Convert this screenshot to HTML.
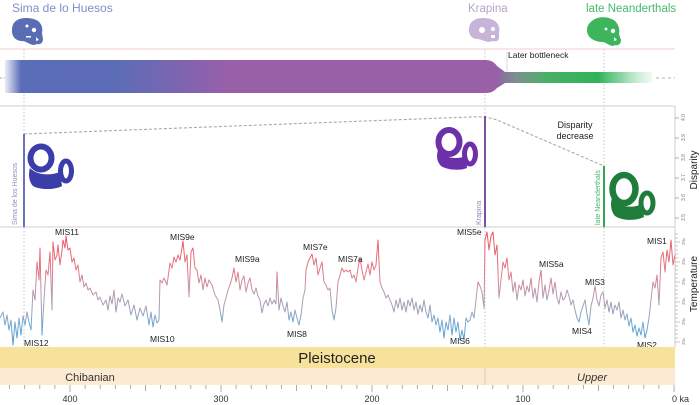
<!DOCTYPE html>
<html><head><meta charset="utf-8">
<style>
html,body{margin:0;padding:0;background:#fff;}
svg{display:block;font-family:"Liberation Sans",Arial,sans-serif;}
</style></head>
<body>
<svg width="700" height="405" viewBox="0 0 700 405" xmlns="http://www.w3.org/2000/svg">
<defs>
<linearGradient id="bar" gradientUnits="userSpaceOnUse" x1="0" y1="0" x2="700" y2="0">
<stop offset="0.007" stop-color="#5a6db8" stop-opacity="0.12"/>
<stop offset="0.03" stop-color="#5a6db8" stop-opacity="1"/>
<stop offset="0.17" stop-color="#5d6cb6"/>
<stop offset="0.29" stop-color="#8a62ad"/>
<stop offset="0.33" stop-color="#9960a8"/>
<stop offset="0.72" stop-color="#9960a8"/>
</linearGradient>
<linearGradient id="gbar" gradientUnits="userSpaceOnUse" x1="498" y1="0" x2="652" y2="0">
<stop offset="0" stop-color="#8d6aa2"/>
<stop offset="0.12" stop-color="#7d8f90"/>
<stop offset="0.3" stop-color="#4caf68"/>
<stop offset="0.65" stop-color="#2db456"/>
<stop offset="0.8" stop-color="#6cc88a" stop-opacity="0.8"/>
<stop offset="1" stop-color="#c8ecd3" stop-opacity="0.3"/>
</linearGradient>
<linearGradient id="tg" gradientUnits="userSpaceOnUse" x1="0" y1="232" x2="0" y2="346">
<stop offset="0" stop-color="#f0505f"/>
<stop offset="0.35" stop-color="#e07a88"/>
<stop offset="0.55" stop-color="#b89aae"/>
<stop offset="0.7" stop-color="#96a2ba"/>
<stop offset="0.82" stop-color="#6eaad6"/>
<stop offset="1" stop-color="#3f9ad8"/>
</linearGradient>
</defs>

<!-- top labels -->
<text x="12" y="12" font-size="12" fill="#8090c6">Sima de lo Huesos</text>
<text x="468" y="12" font-size="11.5" fill="#b7a5c8">Krapina</text>
<text x="586" y="12" font-size="11.5" fill="#45b96c">late Neanderthals</text>

<!-- skulls -->
<g transform="translate(12,17)" fill="#5a6db4">
<path d="M4,4 C8,0 20,0 26,4 C30,7 31,12 30,16 L31,22 C31,26 28,28 25,27 L22,28 C18,28 14,24 10,24 C4,24 0,20 0,14 C0,9 1,6 4,4 Z"/>
<circle cx="22" cy="13" r="2.2" fill="#fff"/><circle cx="15" cy="9" r="1.5" fill="#fff"/><rect x="14" y="19" width="5" height="1.5" fill="#fff"/><path d="M24,20 l3,3 l-3,1z" fill="#fff"/>
</g>
<g transform="translate(469,17)" fill="#c8b4d9">
<path d="M4,4 C8,0 20,0 26,4 C30,7 31,12 30,16 L30,20 C30,24 27,25 24,24 L20,25 C16,25 12,22 8,22 C3,22 0,18 0,13 C0,9 1,6 4,4 Z"/>
<circle cx="13" cy="13" r="3" fill="#fff"/><circle cx="24" cy="12" r="2" fill="#fff"/><rect x="22" y="18" width="4" height="3" fill="#fff"/>
</g>
<g transform="translate(587,16)" fill="#3db55c">
<path d="M5,5 C10,0 22,0 28,5 C32,9 33,14 32,18 L34,24 C34,28 31,30 28,29 L26,30 C23,30 20,27 16,26 C8,26 0,22 0,14 C0,10 2,7 5,5 Z"/>
<circle cx="26" cy="15" r="2.2" fill="#fff"/><circle cx="19" cy="13" r="1.4" fill="#fff"/><path d="M27,21 l3,3 l-3,1z" fill="#fff"/>
</g>

<!-- top frame lines -->
<line x1="0" y1="49" x2="675" y2="49" stroke="#f1cfc8" stroke-width="1"/>
<line x1="0" y1="106" x2="675" y2="106" stroke="#cfcfcf" stroke-width="1"/>

<!-- dotted verticals -->
<g stroke="#c4c4c4" stroke-width="1" stroke-dasharray="1.5,2">
<line x1="24" y1="49" x2="24" y2="347"/>
<line x1="485" y1="49" x2="485" y2="347"/>
<line x1="604" y1="49" x2="604" y2="347"/>
</g>

<!-- population bar -->
<line x1="0" y1="78" x2="5" y2="78" stroke="#aaa" stroke-dasharray="2,2"/>
<path d="M5,60 L486,60 Q493,60 497,66 L505,72 L505,83 L497,88 Q493,93 486,93 L5,93 Z" fill="url(#bar)"/>
<rect x="498" y="72" width="154" height="11" fill="url(#gbar)"/>
<line x1="656" y1="78" x2="675" y2="78" stroke="#b5b5b5" stroke-dasharray="3,3"/>
<line x1="507" y1="52" x2="507" y2="72" stroke="#d8d8d8"/>
<text x="508" y="58" font-size="8.5" fill="#222">Later bottleneck</text>

<!-- disparity panel -->
<line x1="0" y1="227" x2="675" y2="227" stroke="#cfcfcf"/>
<line x1="675" y1="106" x2="675" y2="347" stroke="#cfcfcf"/>
<path d="M24,134 L470,117 Q485,116 497,120 L604,166" fill="none" stroke="#a8a8a8" stroke-width="1.1" stroke-dasharray="3,2"/>
<line x1="24" y1="134" x2="24" y2="227" stroke="#6a72b8" stroke-width="2"/>
<line x1="485" y1="116" x2="485" y2="227" stroke="#7b52a3" stroke-width="2"/>
<line x1="604" y1="166" x2="604" y2="227" stroke="#2fa84f" stroke-width="2"/>
<text transform="translate(17,225) rotate(-90)" font-size="7" fill="#8f92b8">Sima de los Huesos</text>
<text transform="translate(481,225) rotate(-90)" font-size="7" fill="#9a85b0">Krapina</text>
<text transform="translate(600,225) rotate(-90)" font-size="7" fill="#4ab46c">late Neanderthals</text>
<text x="575" y="128" font-size="9" fill="#222" text-anchor="middle">Disparity</text>
<text x="575" y="139" font-size="9" fill="#222" text-anchor="middle">decrease</text>

<!-- inner ear icons -->
<g fill="none" stroke="#3b3ea8">
<ellipse cx="41" cy="158" rx="10.5" ry="11.5" stroke-width="6"/>
<ellipse cx="66" cy="171" rx="5.5" ry="10" stroke-width="5"/>
</g>
<path d="M30,168 C36,175 50,176 60,172 L62,186 C55,190 40,190 33,186 C29,182 28,174 30,168 Z" fill="#3b3ea8"/>
<g fill="none" stroke="#6c30a8">
<ellipse cx="449" cy="142" rx="10.5" ry="12" stroke-width="6"/>
<ellipse cx="470" cy="154" rx="5.5" ry="10" stroke-width="5"/>
</g>
<path d="M438,150 C444,158 456,160 466,156 L467,168 C460,171 447,170 441,166 C437,162 436,156 438,150 Z" fill="#6c30a8"/>
<g fill="none" stroke="#1f7d3c">
<ellipse cx="624" cy="189" rx="11.5" ry="14" stroke-width="6.5"/>
<ellipse cx="647" cy="203" rx="6" ry="10" stroke-width="5"/>
</g>
<path d="M612,198 C618,207 632,209 642,204 L644,217 C636,221 622,221 615,216 C611,211 610,204 612,198 Z" fill="#1f7d3c"/>

<!-- disparity axis -->
<g stroke="#999" stroke-width="0.8">
<line x1="675" y1="118" x2="679" y2="118"/><line x1="675" y1="138" x2="679" y2="138"/>
<line x1="675" y1="158" x2="679" y2="158"/><line x1="675" y1="178" x2="679" y2="178"/>
<line x1="675" y1="198" x2="679" y2="198"/><line x1="675" y1="218" x2="679" y2="218"/>
</g>
<g font-size="5" fill="#777">
<text transform="translate(685,121) rotate(-90)">4.0</text>
<text transform="translate(685,141) rotate(-90)">3.9</text>
<text transform="translate(685,161) rotate(-90)">3.8</text>
<text transform="translate(685,181) rotate(-90)">3.7</text>
<text transform="translate(685,201) rotate(-90)">3.6</text>
<text transform="translate(685,221) rotate(-90)">3.5</text>
</g>
<text transform="translate(697,170) rotate(-90)" font-size="10" fill="#222" text-anchor="middle">Disparity</text>

<!-- temperature axis -->
<g stroke="#aaa" stroke-width="0.7">
<line x1="675" y1="234" x2="678" y2="234"/><line x1="675" y1="238" x2="678" y2="238"/><line x1="675" y1="242" x2="680" y2="242"/><line x1="675" y1="246" x2="678" y2="246"/><line x1="675" y1="250" x2="678" y2="250"/><line x1="675" y1="254" x2="678" y2="254"/><line x1="675" y1="258" x2="678" y2="258"/><line x1="675" y1="262" x2="680" y2="262"/><line x1="675" y1="266" x2="678" y2="266"/><line x1="675" y1="270" x2="678" y2="270"/><line x1="675" y1="274" x2="678" y2="274"/><line x1="675" y1="278" x2="678" y2="278"/><line x1="675" y1="282" x2="680" y2="282"/><line x1="675" y1="286" x2="678" y2="286"/><line x1="675" y1="290" x2="678" y2="290"/><line x1="675" y1="294" x2="678" y2="294"/><line x1="675" y1="298" x2="678" y2="298"/><line x1="675" y1="302" x2="680" y2="302"/><line x1="675" y1="306" x2="678" y2="306"/><line x1="675" y1="310" x2="678" y2="310"/><line x1="675" y1="314" x2="678" y2="314"/><line x1="675" y1="318" x2="678" y2="318"/><line x1="675" y1="322" x2="680" y2="322"/><line x1="675" y1="326" x2="678" y2="326"/><line x1="675" y1="330" x2="678" y2="330"/><line x1="675" y1="334" x2="678" y2="334"/><line x1="675" y1="338" x2="678" y2="338"/><line x1="675" y1="342" x2="680" y2="342"/>
</g>
<g font-size="4.5" fill="#888">
<text transform="translate(685,245) rotate(-90)">3‰</text>
<text transform="translate(685,265) rotate(-90)">3‰</text>
<text transform="translate(685,285) rotate(-90)">3‰</text>
<text transform="translate(685,305) rotate(-90)">3‰</text>
<text transform="translate(685,325) rotate(-90)">3‰</text>
<text transform="translate(685,345) rotate(-90)">3‰</text>
</g>
<text transform="translate(697,284) rotate(-90)" font-size="10" fill="#222" text-anchor="middle">Temperature</text>

<!-- temperature curve -->
<polyline fill="none" stroke="url(#tg)" stroke-width="1" stroke-linejoin="round" points="0,318 3,312 5,325 7,315 9,330 11,320 13,345 15,322 17,338 19,318 21,335 23,316 25,325 27,312 29,322 31,330 33,290 35,300 37,262 39,280 40,248 42,335 44,300 46,270 48,275 50,252 52,310 53,242 55,260 57,255 58,245 60,265 62,250 63,240 65,248 66,236 68,250 70,248 72,262 74,258 76,270 78,265 80,282 82,275 84,287 86,283 88,290 90,288 93,295 96,292 98,300 100,297 103,305 106,300 108,310 110,296 112,304 114,290 116,312 118,298 120,302 122,294 125,306 128,300 131,315 134,305 137,320 140,308 143,316 146,306 149,325 151,312 153,327 155,315 157,323 159,320 160,280 162,283 164,278 167,285 170,263 172,268 174,257 176,262 178,255 180,260 182,248 183,241 185,262 187,255 189,297 191,252 193,248 195,268 197,270 199,283 201,275 203,290 205,278 207,287 209,280 212,285 215,295 218,300 220,310 222,322 224,305 226,298 228,290 230,285 232,278 234,268 236,282 238,272 240,290 242,280 244,276 246,292 248,283 250,278 252,290 254,294 256,288 258,296 260,300 262,313 264,304 266,300 268,306 270,298 272,304 274,300 276,304 277,272 279,310 281,298 283,306 285,312 287,302 289,320 291,312 293,322 295,310 297,318 299,325 301,315 303,298 305,290 306,270 308,262 310,258 312,254 314,265 316,258 318,275 320,268 322,262 324,282 326,285 328,290 330,288 332,310 334,320 336,308 338,282 340,275 342,268 344,272 346,270 348,272 350,270 352,278 354,275 356,282 358,268 360,258 362,270 364,280 366,272 368,264 370,275 372,262 374,270 376,265 378,240 380,282 382,288 384,292 386,298 388,295 390,300 392,305 394,312 396,300 398,308 400,298 402,310 404,302 406,312 408,300 410,306 412,298 414,310 416,302 418,314 420,305 422,312 424,300 426,312 428,318 430,305 432,322 434,315 436,325 438,318 440,332 442,320 444,338 446,322 448,330 450,315 452,335 454,318 456,332 458,322 460,340 462,330 464,340 466,318 468,322 470,320 472,312 474,318 476,300 478,282 480,286 482,292 484,308 485,240 487,232 489,250 491,236 493,232 495,255 497,245 499,298 501,280 503,262 505,268 507,258 509,280 511,272 513,292 515,282 517,300 519,285 521,290 523,280 525,296 527,286 529,292 531,278 533,298 535,288 537,302 539,282 541,270 543,298 545,285 547,300 549,290 551,278 553,294 555,282 557,298 559,304 561,292 563,300 565,298 567,290 569,296 571,305 573,300 575,310 577,318 579,322 581,312 583,306 585,300 587,314 589,325 591,306 593,298 595,286 597,300 599,306 601,295 603,292 605,308 607,300 609,312 611,302 613,314 615,305 617,310 619,302 621,318 623,310 625,320 627,314 629,326 631,318 633,332 635,325 637,336 639,328 641,335 643,322 645,338 647,330 649,318 651,300 653,282 655,288 657,275 659,305 661,258 663,252 665,272 667,250 669,262 671,240 673,265 675,255"/>

<!-- MIS labels -->
<g font-size="8.5" fill="#222">
<text x="24" y="346">MIS12</text>
<text x="55" y="235">MIS11</text>
<text x="150" y="342">MIS10</text>
<text x="170" y="240">MIS9e</text>
<text x="235" y="262">MIS9a</text>
<text x="287" y="337">MIS8</text>
<text x="303" y="250">MIS7e</text>
<text x="338" y="262">MIS7a</text>
<text x="450" y="344">MIS6</text>
<text x="457" y="235">MIS5e</text>
<text x="539" y="267">MIS5a</text>
<text x="572" y="334">MIS4</text>
<text x="585" y="285">MIS3</text>
<text x="637" y="348">MIS2</text>
<text x="647" y="244">MIS1</text>
</g>

<!-- chronostratigraphy bands -->
<rect x="0" y="347" width="675" height="21" fill="#f7e29b"/>
<rect x="0" y="368" width="675" height="17" fill="#fbebd2"/>
<line x1="485" y1="368" x2="485" y2="385" stroke="#d9cbb0"/>
<text x="337" y="363" font-size="15" fill="#222" text-anchor="middle">Pleistocene</text>
<text x="90" y="381" font-size="11" fill="#333" text-anchor="middle">Chibanian</text>
<text x="592" y="381" font-size="11" fill="#333" text-anchor="middle" font-style="italic">Upper</text>

<!-- x axis ticks -->
<g stroke="#999" stroke-width="0.8">
<line x1="674" y1="385" x2="674" y2="392"/><line x1="658.9" y1="385" x2="658.9" y2="389"/><line x1="643.8" y1="385" x2="643.8" y2="389"/><line x1="628.7" y1="385" x2="628.7" y2="389"/><line x1="613.6" y1="385" x2="613.6" y2="389"/><line x1="598.5" y1="385" x2="598.5" y2="391"/><line x1="583.4" y1="385" x2="583.4" y2="389"/><line x1="568.3" y1="385" x2="568.3" y2="389"/><line x1="553.2" y1="385" x2="553.2" y2="389"/><line x1="538.1" y1="385" x2="538.1" y2="389"/><line x1="523" y1="385" x2="523" y2="392"/><line x1="507.9" y1="385" x2="507.9" y2="389"/><line x1="492.8" y1="385" x2="492.8" y2="389"/><line x1="477.7" y1="385" x2="477.7" y2="389"/><line x1="462.6" y1="385" x2="462.6" y2="389"/><line x1="447.5" y1="385" x2="447.5" y2="391"/><line x1="432.4" y1="385" x2="432.4" y2="389"/><line x1="417.3" y1="385" x2="417.3" y2="389"/><line x1="402.2" y1="385" x2="402.2" y2="389"/><line x1="387.1" y1="385" x2="387.1" y2="389"/><line x1="372" y1="385" x2="372" y2="392"/><line x1="356.9" y1="385" x2="356.9" y2="389"/><line x1="341.8" y1="385" x2="341.8" y2="389"/><line x1="326.7" y1="385" x2="326.7" y2="389"/><line x1="311.6" y1="385" x2="311.6" y2="389"/><line x1="296.5" y1="385" x2="296.5" y2="391"/><line x1="281.4" y1="385" x2="281.4" y2="389"/><line x1="266.3" y1="385" x2="266.3" y2="389"/><line x1="251.2" y1="385" x2="251.2" y2="389"/><line x1="236.1" y1="385" x2="236.1" y2="389"/><line x1="221" y1="385" x2="221" y2="392"/><line x1="205.9" y1="385" x2="205.9" y2="389"/><line x1="190.8" y1="385" x2="190.8" y2="389"/><line x1="175.7" y1="385" x2="175.7" y2="389"/><line x1="160.6" y1="385" x2="160.6" y2="389"/><line x1="145.5" y1="385" x2="145.5" y2="391"/><line x1="130.4" y1="385" x2="130.4" y2="389"/><line x1="115.3" y1="385" x2="115.3" y2="389"/><line x1="100.2" y1="385" x2="100.2" y2="389"/><line x1="85.1" y1="385" x2="85.1" y2="389"/><line x1="70" y1="385" x2="70" y2="392"/><line x1="54.9" y1="385" x2="54.9" y2="389"/><line x1="39.8" y1="385" x2="39.8" y2="389"/><line x1="24.7" y1="385" x2="24.7" y2="389"/><line x1="9.6" y1="385" x2="9.6" y2="389"/>
</g>
<g font-size="9" fill="#333" text-anchor="middle">
<text x="70" y="402">400</text>
<text x="221" y="402">300</text>
<text x="372" y="402">200</text>
<text x="523" y="402">100</text>
</g>
<text x="672" y="402" font-size="9" fill="#333">0 ka</text>
</svg>
</body></html>
